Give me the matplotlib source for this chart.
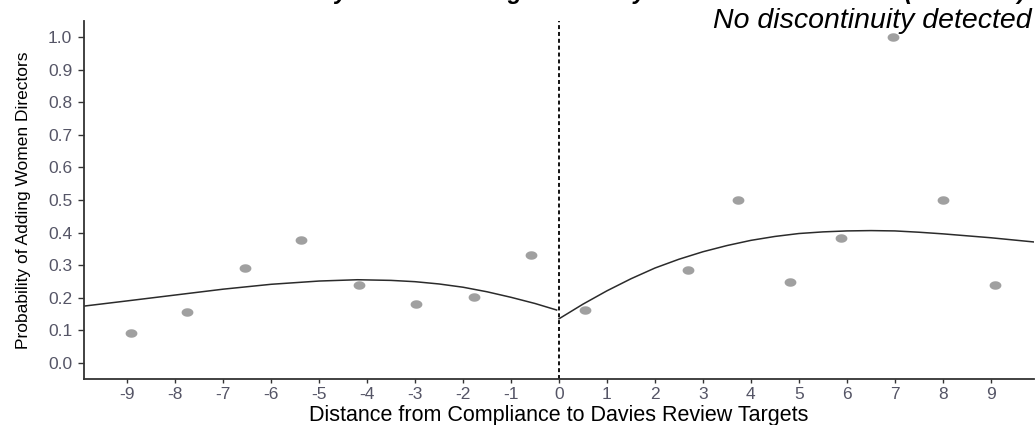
import numpy as np
import matplotlib
matplotlib.use('Agg')
import matplotlib.pyplot as plt
from matplotlib.path import Path

# ---- data ----
left_bin_x = [-8.93, -7.75, -6.55, -5.37, -4.17, -2.99, -1.77, -0.575]
left_bin_y = [0.092, 0.156, 0.292, 0.376, 0.238, 0.181, 0.202, 0.331]
right_bin_x = [0.535, 2.69, 3.73, 4.81, 5.88, 6.96, 8.0, 9.08]
right_bin_y = [0.163, 0.285, 0.499, 0.249, 0.384, 1.0, 0.5, 0.239]

left_fit_x = [-9.9, -9, -8, -7, -6, -5, -4.2, -3.5, -3, -2.5, -2, -1.5, -1, -0.5, -0.05]
left_fit_y = [0.174, 0.190, 0.208, 0.226, 0.241, 0.251, 0.255, 0.253, 0.249, 0.242, 0.232, 0.218, 0.201, 0.182, 0.162]
right_fit_x = [0.0, 0.5, 1.0, 1.5, 2.0, 2.5, 3.0, 3.5, 4.0, 4.5, 5.0, 5.5, 6.0, 6.5, 7.0, 7.5, 8.0, 9.0, 9.9]
right_fit_y = [0.135, 0.180, 0.221, 0.258, 0.291, 0.318, 0.341, 0.360, 0.376, 0.388, 0.397, 0.402, 0.405, 0.406, 0.405, 0.401, 0.396, 0.384, 0.371]

x_ticks = list(range(-9, 10))
y_ticks = [0.0, 0.1, 0.2, 0.3, 0.4, 0.5, 0.6, 0.7, 0.8, 0.9, 1.0]

title = "Discontinuity Plot for Adding Women by Distance to Threshold (FTSE 350)"
note = "No discontinuity detected"
xlabel = "Distance from Compliance to Davies Review Targets"
ylabel = "Probability of Adding Women Directors"

plt.rcParams['font.family'] = ['Liberation Sans', 'DejaVu Sans']

W, H = 1036, 425
fig = plt.figure(figsize=(W / 100, H / 100), dpi=100)
ax = fig.add_axes([84 / W, 1 - 379 / H, (1034 - 84) / W, (379 - 21) / H])

# elliptical marker (reference is horizontally stretched)
t = np.linspace(0, 2 * np.pi, 40)
ell = Path(np.column_stack([np.cos(t), 0.72 * np.sin(t)]), closed=True)

ax.plot(left_bin_x, left_bin_y, linestyle='none', marker=ell, markersize=8.5,
        color='#a0a0a0', markeredgewidth=0)
ax.plot(right_bin_x, right_bin_y, linestyle='none', marker=ell, markersize=8.5,
        color='#a0a0a0', markeredgewidth=0)
ax.plot(left_fit_x, left_fit_y, color='#2b2b2b', lw=1.1)
ax.plot(right_fit_x, right_fit_y, color='#2b2b2b', lw=1.1)
ax.axvline(0, color='black', lw=1.3, linestyle=(0, (2.2, 1.6)))

ax.set_xlim(-9.9, 9.9)
ax.set_ylim(-0.05, 1.05)
ax.set_xticks(x_ticks)
ax.set_xticklabels([str(v) for v in x_ticks])
ax.set_yticks(y_ticks)
ax.set_yticklabels([f"{v:.1f}" for v in y_ticks])

for s in ['top', 'right']:
    ax.spines[s].set_visible(False)
for s in ['left', 'bottom']:
    ax.spines[s].set_color('#333333')
    ax.spines[s].set_linewidth(1.3)

ax.tick_params(axis='y', length=4.5, width=1.0, color='#333333', pad=4,
               labelsize=12.5, labelcolor='#555566')
ax.tick_params(axis='x', length=3, width=1.0, color='#333333', pad=3,
               labelsize=12.5, labelcolor='#555566')

ax.set_ylabel(ylabel, fontsize=12.5, color='black', labelpad=12)
fig.text(559 / W, 1 - 420.5 / H, xlabel, ha='center', va='baseline',
         fontsize=15.5, color='black')

fig.text(1032 / W, 1 - 27.5 / H, note, ha='right', va='baseline',
         fontsize=20.5, style='italic', color='black')
fig.text(200 / W, 1 + 0.5 / H, title, ha='left', va='baseline',
         fontsize=16.8, weight='bold', style='italic', color='black')

fig.savefig('out.png', dpi=100)
